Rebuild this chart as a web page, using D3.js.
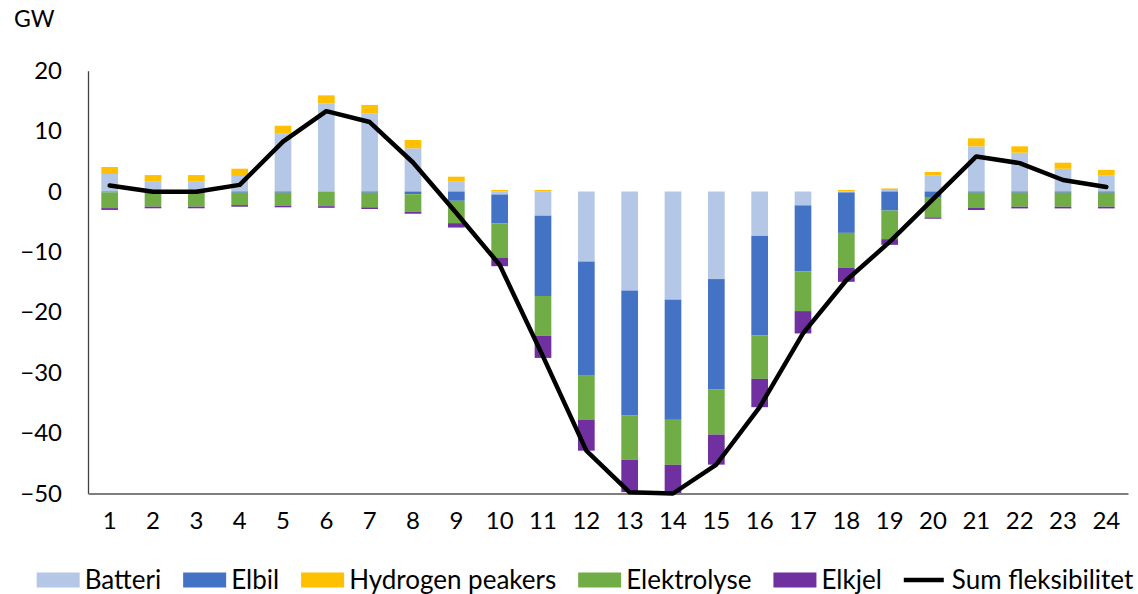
<!DOCTYPE html>
<html>
<head>
<meta charset="utf-8">
<script src="https://cdn.jsdelivr.net/npm/d3@7"></script>
<style>
  html, body { margin: 0; padding: 0; background: #fff; }
  svg { display: block; font-family: Lato, "Open Sans", sans-serif; }
</style>
</head>
<body>
<svg id="chart" width="1138" height="594"></svg>
<script>
// Hours of the day (category axis)
const hours = d3.range(1, 25).map(String);

// Flexibility per technology, GW (positive = supply, negative = demand)
const batteri     = [2.9, 1.62, 1.62, 2.57, 9.57, 14.6, 12.95, 7.15, 1.62, -0.5, -4.0, -11.6, -16.4, -17.9, -14.5, -7.35, -2.3, -0.15, 0.25, 2.68, 7.48, 6.42, 3.77, 2.7];
const elbil       = [-0.15, -0.2, -0.2, -0.2, -0.2, 0, -0.2, -0.45, -1.54, -4.8, -13.3, -18.9, -20.7, -19.9, -18.3, -16.5, -10.9, -6.7, -3.15, -1.03, -0.2, -0.2, -0.2, -0.2];
const hydrogen    = [1.16, 1.1, 1.1, 1.2, 1.32, 1.32, 1.38, 1.38, 0.83, 0.25, 0.25, 0, 0, 0, 0, 0, 0, 0.25, 0.25, 0.55, 1.32, 1.06, 1.0, 0.88];
const elektrolyse = [-2.6, -2.3, -2.3, -2.05, -2.15, -2.43, -2.42, -2.9, -3.7, -5.63, -6.6, -7.33, -7.33, -7.45, -7.45, -7.17, -6.6, -5.8, -4.74, -3.25, -2.53, -2.32, -2.32, -2.32];
const elkjel      = [-0.3, -0.28, -0.28, -0.27, -0.27, -0.27, -0.28, -0.33, -0.73, -1.44, -3.65, -5.08, -5.35, -4.75, -4.97, -4.69, -3.7, -2.3, -0.94, -0.23, -0.33, -0.28, -0.28, -0.28];

// Total flexibility line, GW
const sumFleksibilitet = [1.0, -0.05, -0.05, 1.1, 8.25, 13.3, 11.5, 4.8, -3.55, -12.15, -27.3, -42.9, -49.8, -50, -45.2, -35.7, -23.5, -14.7, -8.35, -1.25, 5.8, 4.7, 1.9, 0.75];

// Value axis ticks
const yTicks = [20, 10, 0, -10, -20, -30, -40, -50];

const seriesNames  = ["Batteri", "Elbil", "Hydrogen peakers", "Elektrolyse", "Elkjel"];
const seriesValues = [batteri, elbil, hydrogen, elektrolyse, elkjel];
const seriesColors = ["#B4C7E7", "#4472C4", "#FFC000", "#70AD47", "#7030A0"];
const lineName = "Sum fleksibilitet";

const rows = hours.map((h, i) => {
  const r = { hour: h };
  seriesNames.forEach((n, k) => { r[n] = seriesValues[k][i]; });
  return r;
});

const svg = d3.select("#chart");
const plot = { left: 88, right: 1128, top: 70.7, bottom: 493.5 };

const x = d3.scaleBand()
  .domain(hours)
  .range([plot.left, plot.right])
  .paddingInner(0.615)
  .paddingOuter(0.3075);

const y = d3.scaleLinear()
  .domain([-50, 20])
  .range([plot.bottom, plot.top]);

const stack = d3.stack()
  .keys(seriesNames)
  .offset(d3.stackOffsetDiverging);
const layers = stack(rows);

// Stacked bars
svg.append("g")
  .selectAll("g")
  .data(layers)
  .join("g")
  .attr("fill", (d, i) => seriesColors[i])
  .selectAll("rect")
  .data(d => d)
  .join("rect")
  .attr("x", d => x(d.data.hour))
  .attr("width", x.bandwidth())
  .attr("y", d => y(Math.max(d[0], d[1])))
  .attr("height", d => Math.abs(y(d[0]) - y(d[1])));

// Value axis
const yAxis = svg.append("g")
  .attr("transform", `translate(${plot.left},0)`)
  .call(d3.axisLeft(y).tickValues(yTicks).tickSize(0).tickPadding(26).tickFormat(d3.format("d")));
yAxis.select(".domain").attr("stroke", "#404040").attr("stroke-width", 1.3);
yAxis.selectAll("text")
  .attr("font-size", 24)
  .attr("font-family", "Lato, sans-serif")
  .attr("fill", "#000");

// Category axis along the bottom
const xAxis = svg.append("g")
  .attr("transform", `translate(0,${plot.bottom})`)
  .call(d3.axisBottom(x).tickSize(0).tickPadding(18));
xAxis.select(".domain").attr("stroke", "#7f7f7f").attr("stroke-width", 2);
xAxis.selectAll("text")
  .attr("font-size", 24)
  .attr("font-family", "Lato, sans-serif")
  .attr("fill", "#000");

// Unit label
svg.append("text")
  .attr("x", 14)
  .attr("y", 27)
  .attr("font-size", 23)
  .attr("fill", "#000")
  .text("GW");

// Total line
const line = d3.line()
  .x((d, i) => x(hours[i]) + x.bandwidth() / 2)
  .y(d => y(d));
svg.append("path")
  .datum(sumFleksibilitet)
  .attr("fill", "none")
  .attr("stroke", "#000")
  .attr("stroke-width", 4.5)
  .attr("stroke-linejoin", "round")
  .attr("stroke-linecap", "round")
  .attr("d", line);

// Legend
const legendY = 580;
const legend = svg.append("g");
const items = seriesNames.map((n, i) => ({ name: n, color: seriesColors[i], type: "rect" }))
  .concat([{ name: lineName, color: "#000", type: "line" }]);
const swW = 43, swH = 15, swGap = 5, itemGap = 22;
let cx = 0;
items.forEach(it => {
  const g = legend.append("g").attr("transform", `translate(${cx},0)`);
  if (it.type === "rect") {
    g.append("rect").attr("x", 0).attr("y", legendY - swH / 2).attr("width", swW).attr("height", swH).attr("fill", it.color);
  } else {
    g.append("line").attr("x1", 0).attr("x2", swW - 3).attr("y1", legendY).attr("y2", legendY)
      .attr("stroke", it.color).attr("stroke-width", 4.5);
  }
  const t = g.append("text")
    .attr("x", swW + swGap)
    .attr("y", legendY)
    .attr("dy", "0.35em")
    .attr("font-size", 26)
    .attr("fill", "#000")
    .text(it.name);
  cx += swW + swGap + t.node().getComputedTextLength() + itemGap;
});
const legendWidth = cx - itemGap;
legend.attr("transform", `translate(${585 - legendWidth / 2},0)`);
</script>
</body>
</html>
